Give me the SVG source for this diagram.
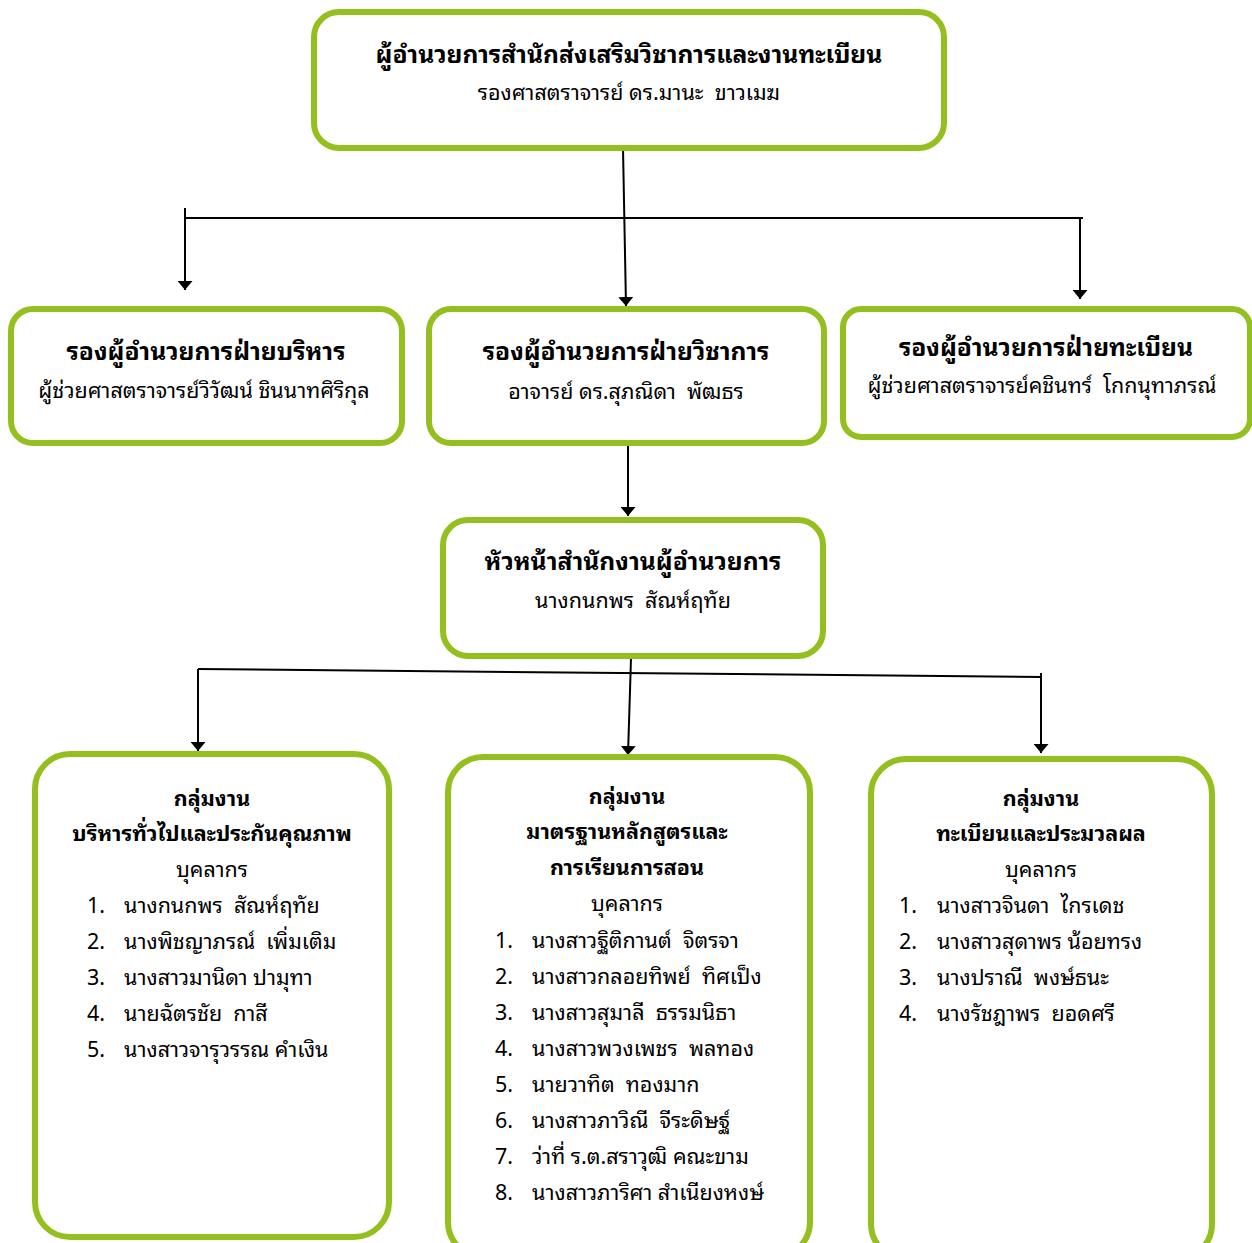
<svg xmlns="http://www.w3.org/2000/svg" width="1252" height="1243" viewBox="0 0 1252 1243">
<defs>
<style>
.box{fill:#fff;stroke:#93c01f;stroke-width:6}
.t{font-family:"Noto Sans Thai Looped","Noto Sans Thai","Noto Sans","DejaVu Sans",sans-serif;fill:#000;font-size:21.5px;white-space:pre}
.b{font-weight:bold;font-size:24.6px}
.g{font-weight:bold;font-size:21.5px}
.m{text-anchor:middle}
.ln{stroke:#000;stroke-width:2;fill:none}
.ar{stroke:#000;stroke-width:2;fill:none;marker-end:url(#ah)}
</style>
<marker id="ah" viewBox="0 0 9 15" refX="9" refY="7.5" markerWidth="9" markerHeight="15" markerUnits="userSpaceOnUse" orient="auto">
<path d="M0,0 L9,7.5 L0,15 Z" fill="#000"/>
</marker>
</defs>
<g id="connectors">
<path class="ar" d="M623,148 L626,306"/>
<path class="ln" d="M185,218 L1083,218"/>
<path class="ln" d="M185,208 L185,218"/>
<path class="ar" d="M185,218 L185,290"/>
<path class="ar" d="M1080,218 L1080,299"/>
<path class="ar" d="M628,436 L628,516"/>
<path class="ar" d="M631,658 L628,755"/>
<path class="ln" d="M198,669 L1042,677"/>
<path class="ar" d="M198,669 L198,751"/>
<path class="ar" d="M1041,673 L1041,753"/>
</g>
<g id="director">
<rect class="box" x="314" y="12" width="630" height="136" rx="25"/>
<text class="t b m" x="629" y="63">ผู้อำนวยการสำนักส่งเสริมวิชาการและงานทะเบียน</text>
<text class="t m" x="629" y="100">รองศาสตราจารย์ ดร.มานะ  ขาวเมฆ</text>
</g>
<g id="deputy-admin">
<rect class="box" x="11" y="309" width="391" height="134" rx="22"/>
<text class="t b m" x="206" y="360">รองผู้อำนวยการฝ่ายบริหาร</text>
<text class="t m" x="204" y="398">ผู้ช่วยศาสตราจารย์วิวัฒน์ ชินนาทศิริกุล</text>
</g>
<g id="deputy-academic">
<rect class="box" x="429" y="309" width="395" height="134" rx="22"/>
<text class="t b m" x="626" y="360">รองผู้อำนวยการฝ่ายวิชาการ</text>
<text class="t m" x="626" y="399">อาจารย์ ดร.สุภณิดา  พัฒธร</text>
</g>
<g id="deputy-registrar">
<rect class="box" x="843" y="309" width="407" height="128" rx="18"/>
<text class="t b m" x="1046" y="356">รองผู้อำนวยการฝ่ายทะเบียน</text>
<text class="t m" x="1042" y="393">ผู้ช่วยศาสตราจารย์คชินทร์  โกกนุทาภรณ์</text>
</g>
<g id="office-head">
<rect class="box" x="443" y="520" width="380" height="136" rx="25"/>
<text class="t b m" x="633" y="570">หัวหน้าสำนักงานผู้อำนวยการ</text>
<text class="t m" x="633" y="608">นางกนกพร  สัณห์ฤทัย</text>
</g>
<g id="group-admin">
<rect class="box" x="35" y="754" width="354" height="483" rx="35"/>
<text class="t g m" x="212" y="806">กลุ่มงาน</text>
<text class="t g m" x="212" y="841">บริหารทั่วไปและประกันคุณภาพ</text>
<text class="t m" x="212" y="877">บุคลากร</text>
<text class="t" x="87" y="913">1.</text><text class="t" x="124" y="913">นางกนกพร  สัณห์ฤทัย</text>
<text class="t" x="87" y="949">2.</text><text class="t" x="124" y="949">นางพิชญาภรณ์  เพิ่มเติม</text>
<text class="t" x="87" y="985">3.</text><text class="t" x="124" y="985">นางสาวมานิดา ปามุทา</text>
<text class="t" x="87" y="1021">4.</text><text class="t" x="124" y="1021">นายฉัตรชัย  กาสี</text>
<text class="t" x="87" y="1057">5.</text><text class="t" x="124" y="1057">นางสาวจารุวรรณ คำเงิน</text>
</g>
<g id="group-curriculum">
<rect class="box" x="448" y="757" width="362" height="500" rx="35"/>
<text class="t g m" x="627" y="804">กลุ่มงาน</text>
<text class="t g m" x="627" y="839">มาตรฐานหลักสูตรและ</text>
<text class="t g m" x="627" y="875">การเรียนการสอน</text>
<text class="t m" x="627" y="911">บุคลากร</text>
<text class="t" x="495" y="948">1.</text><text class="t" x="532" y="948">นางสาวฐิติกานต์  จิตรจา</text>
<text class="t" x="495" y="984">2.</text><text class="t" x="532" y="984">นางสาวกลอยทิพย์  ทิศเป็ง</text>
<text class="t" x="495" y="1020">3.</text><text class="t" x="532" y="1020">นางสาวสุมาลี  ธรรมนิธา</text>
<text class="t" x="495" y="1056">4.</text><text class="t" x="532" y="1056">นางสาวพวงเพชร  พลทอง</text>
<text class="t" x="495" y="1092">5.</text><text class="t" x="532" y="1092">นายวาทิต  ทองมาก</text>
<text class="t" x="495" y="1128">6.</text><text class="t" x="532" y="1128">นางสาวภาวิณี  จีระดิษฐ์</text>
<text class="t" x="495" y="1164">7.</text><text class="t" x="532" y="1164">ว่าที่ ร.ต.สราวุฒิ คณะขาม</text>
<text class="t" x="495" y="1200">8.</text><text class="t" x="532" y="1200">นางสาวภาริศา สำเนียงหงษ์</text>
</g>
<g id="group-registrar">
<rect class="box" x="871" y="759" width="341" height="500" rx="35"/>
<text class="t g m" x="1041" y="806">กลุ่มงาน</text>
<text class="t g m" x="1041" y="841">ทะเบียนและประมวลผล</text>
<text class="t m" x="1041" y="877">บุคลากร</text>
<text class="t" x="899" y="913">1.</text><text class="t" x="937" y="913">นางสาวจินดา  ไกรเดช</text>
<text class="t" x="899" y="949">2.</text><text class="t" x="937" y="949">นางสาวสุดาพร น้อยทรง</text>
<text class="t" x="899" y="985">3.</text><text class="t" x="937" y="985">นางปราณี  พงษ์ธนะ</text>
<text class="t" x="899" y="1021">4.</text><text class="t" x="937" y="1021">นางรัชฎาพร  ยอดศรี</text>
</g>
</svg>
